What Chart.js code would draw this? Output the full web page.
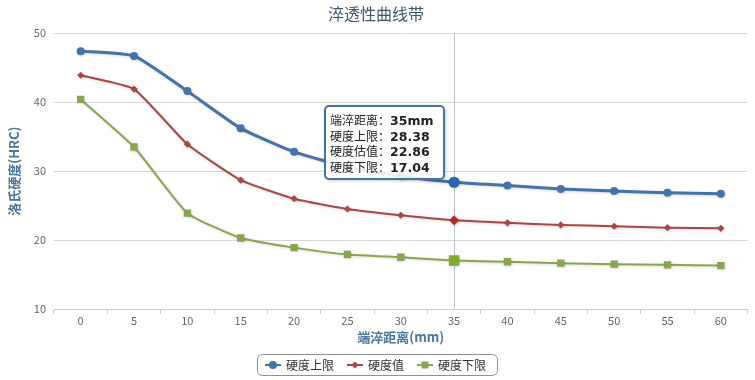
<!DOCTYPE html>
<html>
<head>
<meta charset="utf-8">
<script src="https://cdn.jsdelivr.net/npm/chart.js@4/dist/chart.umd.min.js"></script>
<style>
html,body{margin:0;padding:0;background:#fff;}
#wrap{position:relative;width:755px;height:380px;}
#tip{position:absolute;pointer-events:none;background:rgba(255,255,255,0.88);border:2px solid #4572A7;border-radius:5px;
  padding:5px 9px 3px 4px;font-family:'Noto Sans CJK SC',sans-serif;font-size:12px;color:#222;
  box-shadow:1px 1px 3px rgba(0,0,0,0.2);white-space:nowrap;opacity:0;}
#tip div{height:15.6px;line-height:15.6px;overflow:visible;}
#tip b{font-family:'DejaVu Sans',sans-serif;font-weight:bold;font-size:12.5px;color:#222;line-height:15.6px;}
</style>
</head>
<body>
<div id="wrap"><canvas id="c" width="755" height="380"></canvas><div id="tip"></div></div>
<script>
const chartTitle = '淬透性曲线带';
const distances = ['0','5','10','15','20','25','30','35','40','45','50','55','60'];
const upperLimit = [47.4, 46.7, 41.6, 36.2, 32.8, 30.6, 29.3, 28.38, 27.9, 27.4, 27.1, 26.85, 26.7];
const estimate   = [43.9, 41.9, 33.9, 28.7, 26.0, 24.5, 23.6, 22.86, 22.5, 22.2, 22.0, 21.8, 21.7];
const lowerLimit = [40.4, 33.5, 23.9, 20.3, 18.9, 17.9, 17.5, 17.04, 16.85, 16.65, 16.5, 16.4, 16.3];
const seriesNames = ['硬度上限', '硬度值', '硬度下限'];
const tooltipNames = ['硬度上限', '硬度估值', '硬度下限'];
const tooltipTitle = '端淬距离';
const xUnit = 'mm';
const xTitle = '端淬距离(mm)';
const yTitle = '洛氏硬度(HRC)';
const yTicks = [10, 20, 30, 40, 50];
const activeIndex = 7;

const colors = ['#4572A7', '#AA4643', '#89A54E'];
const styles = ['circle', 'rectRot', 'rect'];
const FONT = "'Noto Sans CJK SC', 'Open Sans', sans-serif";

function legendIcon(color, style) {
  const cv = document.createElement('canvas');
  cv.width = 16; cv.height = 10;
  const g = cv.getContext('2d');
  g.strokeStyle = color; g.fillStyle = color; g.lineWidth = 2;
  g.beginPath(); g.moveTo(0, 5); g.lineTo(16, 5); g.stroke();
  g.beginPath();
  if (style === 'circle') { g.arc(8, 5, 4, 0, Math.PI * 2); }
  else if (style === 'rectRot') { g.moveTo(8, 1.5); g.lineTo(11.5, 5); g.lineTo(8, 8.5); g.lineTo(4.5, 5); g.closePath(); }
  else { g.rect(4.5, 1.5, 7, 7); }
  g.fill();
  return cv;
}
const icons = colors.map((c, i) => legendIcon(c, styles[i]));

const crosshair = {
  id: 'crosshair',
  beforeDatasetsDraw(chart) {
    const x = chart.scales.x.getPixelForValue(activeIndex);
    const ctx = chart.ctx, a = chart.chartArea;
    ctx.save();
    ctx.strokeStyle = '#C0C0C0'; ctx.lineWidth = 1;
    ctx.beginPath(); ctx.moveTo(Math.round(x) + 0.5, a.top); ctx.lineTo(Math.round(x) + 0.5, a.bottom); ctx.stroke();
    ctx.restore();
  },
  beforeDatasetDraw(chart) {
    const ctx = chart.ctx;
    ctx.save();
    ctx.shadowColor = 'rgba(0,0,0,0.15)';
    ctx.shadowBlur = 3; ctx.shadowOffsetX = 1; ctx.shadowOffsetY = 1;
  },
  afterDatasetDraw(chart) { chart.ctx.restore(); }
};

const legendBorder = {
  id: 'legendBorder',
  afterDraw(chart) {
    const boxes = chart.legend && chart.legend.legendHitBoxes;
    if (!boxes || !boxes.length) return;
    let l = Infinity, r = -Infinity, t = Infinity, b = -Infinity;
    boxes.forEach(h => { l = Math.min(l, h.left); r = Math.max(r, h.left + h.width); t = Math.min(t, h.top); b = Math.max(b, h.top + h.height); });
    const cy = (t + b) / 2;
    const ctx = chart.ctx;
    ctx.save();
    ctx.strokeStyle = '#909090'; ctx.lineWidth = 1;
    ctx.beginPath();
    ctx.roundRect(Math.round(l - 9) + 0.5, Math.round(cy - 11) + 0.5, Math.round(r - l + 20), 21, 5);
    ctx.stroke();
    ctx.restore();
  }
};

function externalTip(context) {
  const tip = document.getElementById('tip');
  const t = context.tooltip;
  if (!t || t.opacity === 0 || !t.dataPoints || !t.dataPoints.length) { tip.style.opacity = 0; return; }
  const pts = t.dataPoints;
  let html = '<div>' + tooltipTitle + '：<b>' + pts[0].label + xUnit + '</b></div>';
  pts.forEach(p => { html += '<div>' + tooltipNames[p.datasetIndex] + '：<b>' + p.parsed.y.toFixed(2) + '</b></div>'; });
  tip.innerHTML = html;
  tip.style.opacity = 1;
  const el = pts[0].element;
  const w = tip.offsetWidth, h = tip.offsetHeight;
  tip.style.left = (el.x - 10 - w) + 'px';
  tip.style.top = (el.y - h - 3) + 'px';
}

const dataArrays = [upperLimit, estimate, lowerLimit];
const radii = [4, 3.6, 5.2];
const hoverRadii = [5.6, 5, 7.5];
const chart = new Chart(document.getElementById('c'), {
  type: 'line',
  data: {
    labels: distances,
    datasets: dataArrays.map((d, i) => ({
      label: seriesNames[i],
      data: d,
      borderColor: colors[i],
      backgroundColor: colors[i],
      borderWidth: i === 0 ? 3 : 2,
      pointStyle: styles[i],
      pointRadius: radii[i],
      pointHoverRadius: hoverRadii[i],
      pointBorderWidth: 0,
      pointHoverBorderWidth: 0,
      tension: 0.15,
      fill: false
    }))
  },
  options: {
    responsive: false,
    animation: false,
    events: [],
    layout: { padding: { left: 0, right: 3, top: 0, bottom: -1 } },
    interaction: { mode: 'index', intersect: false },
    scales: {
      x: {
        offset: true,
        grid: { display: true, drawOnChartArea: false, drawTicks: true, tickLength: 5, color: '#C0D0E0', offset: true },
        border: { display: true, color: '#C0D0E0', width: 1 },
        ticks: { color: '#666', font: { family: FONT, size: 11 }, padding: 0 },
        title: { display: true, text: xTitle, color: '#4d759e', font: { family: FONT, size: 13, weight: 'bold' }, padding: { top: 0, bottom: 0 } },
        afterFit(s) { s.height = 36; }
      },
      y: {
        min: 10, max: 50,
        afterBuildTicks(s) { s.ticks = yTicks.map(v => ({ value: v })); },
        grid: { color: '#D8D8D8', drawTicks: false, lineWidth: 1 },
        border: { display: false },
        ticks: { color: '#666', font: { family: FONT, size: 11 }, padding: 8 },
        title: { display: true, text: yTitle, color: '#4d759e', font: { family: FONT, size: 13, weight: 'bold' }, padding: { top: 6, bottom: 0 } },
        afterFit(s) { s.width = 54; }
      }
    },
    plugins: {
      title: { display: true, text: chartTitle, color: '#3E576F', font: { family: FONT, size: 16, weight: 'normal' }, padding: { top: 4, bottom: 10 } },
      legend: {
        position: 'bottom',
        labels: {
          usePointStyle: true,
          pointStyleWidth: 14,
          padding: 14,
          color: '#333',
          font: { family: FONT, size: 12 },
          generateLabels(chart) {
            return chart.data.datasets.map((ds, i) => ({
              text: ds.label, pointStyle: icons[i], fillStyle: colors[i], strokeStyle: colors[i],
              lineWidth: 0, hidden: false, datasetIndex: i, fontColor: '#333'
            }));
          }
        }
      },
      tooltip: {
        enabled: false,
        external: externalTip
      }
    }
  },
  plugins: [crosshair, legendBorder]
});

const act = [0, 1, 2].map(i => ({ datasetIndex: i, index: activeIndex }));
chart.setActiveElements(act);
const m = chart.getDatasetMeta(0).data[activeIndex];
chart.tooltip.setActiveElements(act, { x: m.x, y: m.y });
chart.update();
externalTip({ chart, tooltip: chart.tooltip });
</script>
</body>
</html>
